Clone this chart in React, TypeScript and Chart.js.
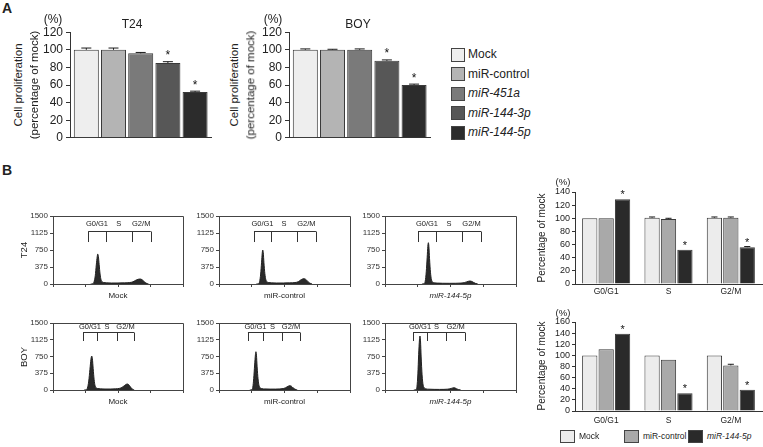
import React, { useEffect, useRef } from "react";
import { Chart, registerables } from "chart.js";

Chart.register(...registerables);

const FONT = "'Liberation Sans', Arial, Helvetica, sans-serif";
Chart.defaults.font.family = FONT;
Chart.defaults.color = "#222";

// ---------------- Panel A data ----------------
const treatmentsA = ["Mock", "miR-control", "miR-451a", "miR-144-3p", "miR-144-5p"];
const treatmentItalicA = [false, false, true, true, true];
const treatmentColorsA = ["#eeeeee", "#b4b4b4", "#7a7a7a", "#575757", "#2c2c2c"];
const prolifTicks = [0, 20, 40, 60, 80, 100, 120];
const t24Prolif = [100, 100, 96, 85, 52];
const t24ProlifErr = [2, 2, 1, 1.5, 1];
const t24ProlifStar = [false, false, false, true, true];
const boyProlif = [100, 100, 100, 87.5, 60];
const boyProlifErr = [1, 0.6, 1, 1, 1];
const boyProlifStar = [false, false, false, true, true];

// ---------------- Panel B histogram data ----------------
const phases = ["G0/G1", "S", "G2/M"];
const groupsB = ["Mock", "miR-control", "miR-144-5p"];
const groupItalicB = [false, false, true];
const groupColorsB = ["#ececec", "#a9a9a9", "#2a2a2a"];
const histXTicks = [0, 250, 500, 750, 1000];
const histYTicks = [0, 375, 750, 1125, 1500];

const t24MockX = [290, 305, 315, 325, 333, 340, 344, 349, 355, 362, 370, 380, 392, 410, 450, 500, 550, 590, 615, 635, 655, 670, 685, 700, 715, 735];
const t24MockY = [0, 5, 40, 180, 420, 600, 660, 610, 430, 220, 90, 45, 32, 26, 22, 22, 25, 32, 48, 80, 104, 110, 95, 55, 20, 0];
const t24MockGates = [271, 405, 605, 752];

const t24CtrlX = [285, 300, 310, 318, 325, 330, 334, 338, 343, 350, 358, 368, 380, 400, 440, 490, 540, 580, 605, 620, 637, 649, 662, 677, 692, 710];
const t24CtrlY = [0, 5, 50, 220, 480, 680, 750, 690, 470, 230, 90, 45, 32, 26, 22, 22, 25, 32, 50, 82, 110, 117, 102, 60, 22, 0];
const t24CtrlGates = [267, 397, 595, 740];

const t24P5X = [282, 297, 307, 315, 322, 327, 331, 335, 340, 347, 355, 365, 378, 400, 440, 490, 540, 580, 605, 622, 637, 649, 661, 675, 690, 708];
const t24P5Y = [0, 5, 60, 270, 590, 830, 911, 830, 560, 260, 90, 40, 26, 20, 16, 15, 16, 20, 30, 46, 60, 66, 58, 36, 14, 0];
const t24P5Gates = [252, 389, 588, 733];

const boyMockX = [240, 255, 265, 275, 284, 292, 298, 303, 309, 316, 324, 334, 346, 365, 400, 440, 480, 510, 530, 548, 562, 572, 583, 595, 608, 625];
const boyMockY = [0, 5, 45, 200, 460, 690, 760, 700, 480, 240, 90, 45, 32, 26, 22, 22, 26, 36, 58, 95, 125, 134, 118, 70, 25, 0];
const boyMockGates = [231, 338, 492, 623];

const boyCtrlX = [235, 250, 258, 265, 272, 278, 282, 286, 291, 298, 306, 316, 328, 350, 390, 430, 465, 490, 507, 520, 532, 542, 553, 565, 580, 598];
const boyCtrlY = [0, 5, 60, 260, 560, 790, 857, 780, 520, 250, 95, 45, 30, 24, 20, 20, 24, 32, 48, 72, 90, 96, 84, 50, 18, 0];
const boyCtrlGates = [221, 336, 481, 618];

const boyP5X = [220, 235, 244, 251, 257, 263, 267, 271, 276, 283, 291, 301, 313, 335, 375, 415, 450, 475, 495, 508, 519, 527, 536, 546, 560, 578];
const boyP5Y = [0, 5, 80, 360, 800, 1120, 1209, 1100, 740, 340, 110, 45, 25, 18, 14, 13, 14, 18, 26, 38, 47, 50, 44, 28, 10, 0];
const boyP5Gates = [214, 321, 466, 611];

// ---------------- Panel B phase bar data ----------------
const t24PhaseTicks = [0, 20, 40, 60, 80, 100, 120, 140];
const t24PhaseMock = [100, 101, 101];
const t24PhaseCtrl = [100, 99, 101];
const t24PhaseP5 = [129, 52, 56];
const t24PhaseErrMock = [0, 1, 1];
const t24PhaseErrCtrl = [0, 1, 1];
const t24PhaseErrP5 = [0, 0, 1];
const t24PhaseStarP5 = [true, true, true];

const boyPhaseTicks = [0, 20, 40, 60, 80, 100, 120, 140, 160];
const boyPhaseMock = [100, 100, 100];
const boyPhaseCtrl = [111, 92, 82];
const boyPhaseP5 = [139, 32, 38];
const boyPhaseErrMock = [0, 0, 0];
const boyPhaseErrCtrl = [0, 0, 2];
const boyPhaseErrP5 = [0, 0, 0];
const boyPhaseStarP5 = [true, true, true];

// ---------------- plugins ----------------
const barExtras = {
  id: "barExtras",
  afterDatasetsDraw(chart: any, _a: any, opts: any) {
    const ctx = chart.ctx;
    const yS = chart.scales.y;
    ctx.save();
    chart.data.datasets.forEach((ds: any, i: number) => {
      const meta = chart.getDatasetMeta(i);
      meta.data.forEach((el: any, j: number) => {
        const raw = ds.data[j];
        const v = typeof raw === "number" ? raw : raw.y;
        const e = ds.errors ? ds.errors[j] : 0;
        const yv = yS.getPixelForValue(v);
        const ye = yS.getPixelForValue(v + e);
        if (e > 0) {
          ctx.strokeStyle = "#1a1a1a";
          ctx.lineWidth = 1;
          ctx.beginPath();
          ctx.moveTo(el.x, yv);
          ctx.lineTo(el.x, ye);
          const c = el.width * opts.cap;
          ctx.moveTo(el.x - c, ye);
          ctx.lineTo(el.x + c, ye);
          ctx.stroke();
        }
        if (ds.stars && ds.stars[j]) {
          ctx.fillStyle = "#111";
          ctx.font = `${opts.starSize}px ${FONT}`;
          ctx.textAlign = "center";
          ctx.textBaseline = "alphabetic";
          ctx.fillText("*", el.x, ye - opts.starGap);
        }
      });
    });
    ctx.restore();
  },
};

const histExtras = {
  id: "histExtras",
  afterDatasetsDraw(chart: any, _a: any, opts: any) {
    const { ctx, chartArea: a, scales } = chart;
    const x = scales.x;
    const y = scales.y;
    ctx.save();
    ctx.strokeStyle = "#444";
    ctx.lineWidth = 1;
    ctx.beginPath();
    ctx.moveTo(a.left, Math.round(a.top) + 0.5);
    ctx.lineTo(Math.round(a.right) + 0.5, Math.round(a.top) + 0.5);
    ctx.lineTo(Math.round(a.right) + 0.5, a.bottom);
    ctx.stroke();
    const g: number[] = opts.gates;
    const yl = Math.round(y.getPixelForValue(opts.level)) + 0.5;
    const yt = y.getPixelForValue(opts.tickEnd);
    ctx.strokeStyle = "#333";
    ctx.beginPath();
    ctx.moveTo(x.getPixelForValue(g[0]), yl);
    ctx.lineTo(x.getPixelForValue(g[g.length - 1]), yl);
    g.forEach((v) => {
      const px = Math.round(x.getPixelForValue(v)) + 0.5;
      ctx.moveTo(px, yl);
      ctx.lineTo(px, yt);
    });
    ctx.stroke();
    ctx.fillStyle = "#222";
    ctx.font = `7.5px ${FONT}`;
    ctx.textAlign = "center";
    ctx.textBaseline = "middle";
    const ly = y.getPixelForValue(opts.labelLevel);
    phases.forEach((p, k) => {
      const cx = (x.getPixelForValue(g[k]) + x.getPixelForValue(g[k + 1])) / 2;
      ctx.fillText(p, cx, ly);
    });
    ctx.restore();
  },
};

// ---------------- helpers ----------------
type Rect = { x: number; y: number; w: number; h: number };
type Plot = { l: number; t: number; r: number; b: number };

function ticksFrom(arr: number[]) {
  return (s: any) => {
    s.ticks = arr.map((v) => ({ value: v }));
  };
}
const plainLabel = (v: any) => String(v);

function PlacedChart({ rect, plot, xH, build }: { rect: Rect; plot: Plot; xH: number; build: () => any }) {
  const ref = useRef<HTMLCanvasElement>(null);
  useEffect(() => {
    const cfg = build();
    const yW = plot.l - rect.x;
    cfg.options.layout = {
      padding: {
        left: 0,
        top: plot.t - rect.y,
        right: rect.x + rect.w - plot.r,
        bottom: rect.y + rect.h - plot.b - xH,
      },
    };
    cfg.options.scales.x.afterFit = (s: any) => {
      s.height = xH;
    };
    cfg.options.scales.y.afterFit = (s: any) => {
      s.width = yW;
    };
    const chart = new Chart(ref.current as HTMLCanvasElement, cfg);
    return () => chart.destroy();
  }, []);
  return (
    <canvas
      ref={ref}
      width={rect.w}
      height={rect.h}
      style={{ position: "absolute", left: rect.x, top: rect.y, width: rect.w, height: rect.h }}
    />
  );
}

const baseOptions = () => ({
  animation: false,
  responsive: false,
  devicePixelRatio: 1,
  events: [],
  plugins: { legend: { display: false }, tooltip: { enabled: false }, title: { display: false } },
});

function prolifConfig(values: number[], errs: number[], stars: boolean[]) {
  return {
    type: "bar",
    data: {
      datasets: [
        {
          data: values.map((v, i) => ({ x: i, y: v })),
          backgroundColor: treatmentColorsA,
          borderColor: "#3a3a3a",
          borderWidth: 1,
          categoryPercentage: 1,
          barPercentage: 0.92,
          errors: errs,
          stars,
        },
      ],
    },
    options: {
      ...baseOptions(),
      plugins: { ...baseOptions().plugins, barExtras: { cap: 0.2, starSize: 12, starGap: 2.5 } },
      scales: {
        x: {
          type: "linear",
          min: -0.6,
          max: treatmentsA.length - 1 + 0.6,
          offset: false,
          ticks: { display: false },
          grid: { display: false, drawTicks: false },
          border: { display: true, color: "#333" },
        },
        y: {
          min: prolifTicks[0],
          max: prolifTicks[prolifTicks.length - 1],
          afterBuildTicks: ticksFrom(prolifTicks),
          ticks: { font: { size: 12 }, padding: 3, color: "#222", autoSkip: false, callback: plainLabel },
          grid: { drawOnChartArea: false, drawTicks: true, tickLength: 4, color: "#333" },
          border: { display: true, color: "#333" },
        },
      },
    },
    plugins: [barExtras],
  };
}

function histConfig(xs: number[], ys: number[], gates: number[], row: number) {
  const lv = row === 0 ? { level: 1169, tickEnd: 926, labelLevel: 1324 } : { level: 1298, tickEnd: 1097, labelLevel: 1410 };
  return {
    type: "line",
    data: {
      datasets: [
        {
          data: xs.map((x, i) => ({ x, y: ys[i] })),
          borderColor: "#222",
          backgroundColor: "#2a2a2a",
          fill: "origin",
          borderWidth: 1,
          pointRadius: 0,
          cubicInterpolationMode: "monotone",
        },
      ],
    },
    options: {
      ...baseOptions(),
      plugins: { ...baseOptions().plugins, histExtras: { gates, ...lv } },
      scales: {
        x: {
          type: "linear",
          min: histXTicks[0],
          max: histXTicks[histXTicks.length - 1],
          afterBuildTicks: ticksFrom(histXTicks),
          ticks: { display: false, autoSkip: false },
          grid: { display: true, drawOnChartArea: false, drawTicks: true, tickLength: 3, color: "#444" },
          border: { display: true, color: "#444" },
        },
        y: {
          min: histYTicks[0],
          max: histYTicks[histYTicks.length - 1],
          afterBuildTicks: ticksFrom(histYTicks),
          ticks: { font: { size: 8 }, padding: 2, color: "#333", autoSkip: false, callback: plainLabel },
          grid: { drawOnChartArea: false, drawTicks: true, tickLength: 3, color: "#444" },
          border: { display: true, color: "#444" },
        },
      },
    },
    plugins: [histExtras],
  };
}

function phaseConfig(
  series: number[][],
  errs: number[][],
  stars: boolean[][],
  yTicks: number[],
  labelPad: number
) {
  return {
    type: "bar",
    data: {
      labels: phases,
      datasets: series.map((d, i) => ({
        label: groupsB[i],
        data: d,
        backgroundColor: groupColorsB[i],
        borderColor: "#3a3a3a",
        borderWidth: 1,
        categoryPercentage: 0.79,
        barPercentage: 0.93,
        errors: errs[i],
        stars: stars[i],
      })),
    },
    options: {
      ...baseOptions(),
      plugins: { ...baseOptions().plugins, barExtras: { cap: 0.2, starSize: 11, starGap: 1 } },
      scales: {
        x: {
          type: "category",
          ticks: { font: { size: 8.5 }, padding: labelPad, color: "#222", autoSkip: false },
          grid: { display: false, drawTicks: false },
          border: { display: true, color: "#333" },
        },
        y: {
          min: yTicks[0],
          max: yTicks[yTicks.length - 1],
          afterBuildTicks: ticksFrom(yTicks),
          ticks: { font: { size: 9 }, padding: 2, color: "#222", autoSkip: false, callback: plainLabel },
          grid: { drawOnChartArea: false, drawTicks: true, tickLength: 3, color: "#333" },
          border: { display: true, color: "#333" },
        },
      },
    },
    plugins: [barExtras],
  };
}

function Txt({
  x,
  y,
  size,
  children,
  bold,
  italic,
  rotate,
  left,
}: {
  x: number;
  y: number;
  size: number;
  children: React.ReactNode;
  bold?: boolean;
  italic?: boolean;
  rotate?: boolean;
  left?: boolean;
}) {
  return (
    <div
      style={{
        position: "absolute",
        left: x,
        top: y,
        fontSize: size,
        lineHeight: 1,
        fontWeight: bold ? 700 : 400,
        fontStyle: italic ? "italic" : "normal",
        whiteSpace: "nowrap",
        transform: `${left ? "translate(0,-50%)" : "translate(-50%,-50%)"}${rotate ? " rotate(-90deg)" : ""}`,
        color: "#222",
      }}
    >
      {children}
    </div>
  );
}

const histCols = [
  { l: 53, r: 183 },
  { l: 219, r: 350 },
  { l: 385, r: 516 },
];
const histRows = [
  { t: 216, b: 284 },
  { t: 323, b: 390 },
];

export default function App() {
  useEffect(() => {
    document.body.style.margin = "0";
  }, []);

  const hists = [
    [
      [t24MockX, t24MockY, t24MockGates],
      [t24CtrlX, t24CtrlY, t24CtrlGates],
      [t24P5X, t24P5Y, t24P5Gates],
    ],
    [
      [boyMockX, boyMockY, boyMockGates],
      [boyCtrlX, boyCtrlY, boyCtrlGates],
      [boyP5X, boyP5Y, boyP5Gates],
    ],
  ];

  return (
    <div
      style={{
        position: "absolute",
        left: 0,
        top: 0,
        width: 763,
        height: 447,
        background: "#fff",
        overflow: "hidden",
        fontFamily: FONT,
      }}
    >
      {/* Panel A */}
      <PlacedChart
        rect={{ x: 40, y: 22, w: 180, h: 126 }}
        plot={{ l: 70, t: 32, r: 211.4, b: 139 }}
        xH={0}
        build={() => prolifConfig(t24Prolif, t24ProlifErr, t24ProlifStar)}
      />
      <PlacedChart
        rect={{ x: 259, y: 22, w: 180, h: 126 }}
        plot={{ l: 289, t: 32, r: 430.4, b: 139 }}
        xH={0}
        build={() => prolifConfig(boyProlif, boyProlifErr, boyProlifStar)}
      />

      {/* Panel B histograms */}
      {histRows.map((row, ri) =>
        histCols.map((col, ci) => {
          const [xs, ys, gates] = hists[ri][ci];
          return (
            <PlacedChart
              key={`h${ri}${ci}`}
              rect={{ x: col.l - 28, y: row.t - 8, w: col.r - col.l + 32, h: row.b - row.t + 16 }}
              plot={{ l: col.l, t: row.t, r: col.r, b: row.b }}
              xH={4}
              build={() => histConfig(xs, ys, gates, ri)}
            />
          );
        })
      )}

      {/* Panel B phase bars */}
      <PlacedChart
        rect={{ x: 545, y: 184, w: 218, h: 116 }}
        plot={{ l: 575, t: 192, r: 762, b: 284 }}
        xH={14}
        build={() =>
          phaseConfig(
            [t24PhaseMock, t24PhaseCtrl, t24PhaseP5],
            [t24PhaseErrMock, t24PhaseErrCtrl, t24PhaseErrP5],
            [[false, false, false], [false, false, false], t24PhaseStarP5],
            t24PhaseTicks,
            2.5
          )
        }
      />
      <PlacedChart
        rect={{ x: 545, y: 314, w: 218, h: 114 }}
        plot={{ l: 575, t: 322, r: 762, b: 411 }}
        xH={14}
        build={() =>
          phaseConfig(
            [boyPhaseMock, boyPhaseCtrl, boyPhaseP5],
            [boyPhaseErrMock, boyPhaseErrCtrl, boyPhaseErrP5],
            [[false, false, false], [false, false, false], boyPhaseStarP5],
            boyPhaseTicks,
            4.5
          )
        }
      />

      {/* Panel labels */}
      <Txt x={7} y={8} size={14} bold>A</Txt>
      <Txt x={7} y={170} size={14} bold>B</Txt>

      {/* Panel A texts */}
      <Txt x={53} y={19} size={12}>(%)</Txt>
      <Txt x={132} y={24} size={12}>T24</Txt>
      <Txt x={19} y={85} size={11.5} rotate>Cell proliferation</Txt>
      <Txt x={35} y={85} size={11.5} rotate>(percentage of mock)</Txt>
      <Txt x={273} y={19} size={12}>(%)</Txt>
      <Txt x={358} y={24} size={12}>BOY</Txt>
      <Txt x={235} y={85} size={11.5} rotate>Cell proliferation</Txt>
      <Txt x={251} y={85} size={11.5} rotate>(percentage of mock)</Txt>

      {/* Panel A legend */}
      {treatmentsA.map((t, i) => {
        const cy = 54 + i * 19.6;
        return (
          <React.Fragment key={t}>
            <div
              style={{
                position: "absolute",
                left: 451,
                top: cy - 6.5,
                width: 12,
                height: 12,
                background: treatmentColorsA[i],
                border: "1px solid #444",
              }}
            />
            <Txt x={468} y={cy} size={12} left italic={treatmentItalicA[i]}>
              {t}
            </Txt>
          </React.Fragment>
        );
      })}

      {/* Histogram labels */}
      <Txt x={24} y={250} size={9.5} rotate>T24</Txt>
      <Txt x={24} y={357} size={9.5} rotate>BOY</Txt>
      {histRows.map((row, ri) =>
        histCols.map((col, ci) => (
          <Txt
            key={`hl${ri}${ci}`}
            x={(col.l + col.r) / 2}
            y={ri === 0 ? 296 : 402}
            size={8}
            italic={groupItalicB[ci]}
          >
            {groupsB[ci]}
          </Txt>
        ))
      )}

      {/* Phase chart texts */}
      <Txt x={563} y={182} size={9.5}>(%)</Txt>
      <Txt x={542} y={238} size={10} rotate>Percentage of mock</Txt>
      <Txt x={563} y={313} size={9.5}>(%)</Txt>
      <Txt x={542} y={366} size={10} rotate>Percentage of mock</Txt>

      {/* Phase legend */}
      {groupsB.map((g, i) => {
        const sx = [560, 624, 688][i];
        return (
          <React.Fragment key={g}>
            <div
              style={{
                position: "absolute",
                left: sx,
                top: 430,
                width: 13,
                height: 11,
                background: groupColorsB[i],
                border: "1px solid #444",
              }}
            />
            <Txt x={sx + 19} y={436} size={8.5} left italic={groupItalicB[i]}>
              {g}
            </Txt>
          </React.Fragment>
        );
      })}
    </div>
  );
}
